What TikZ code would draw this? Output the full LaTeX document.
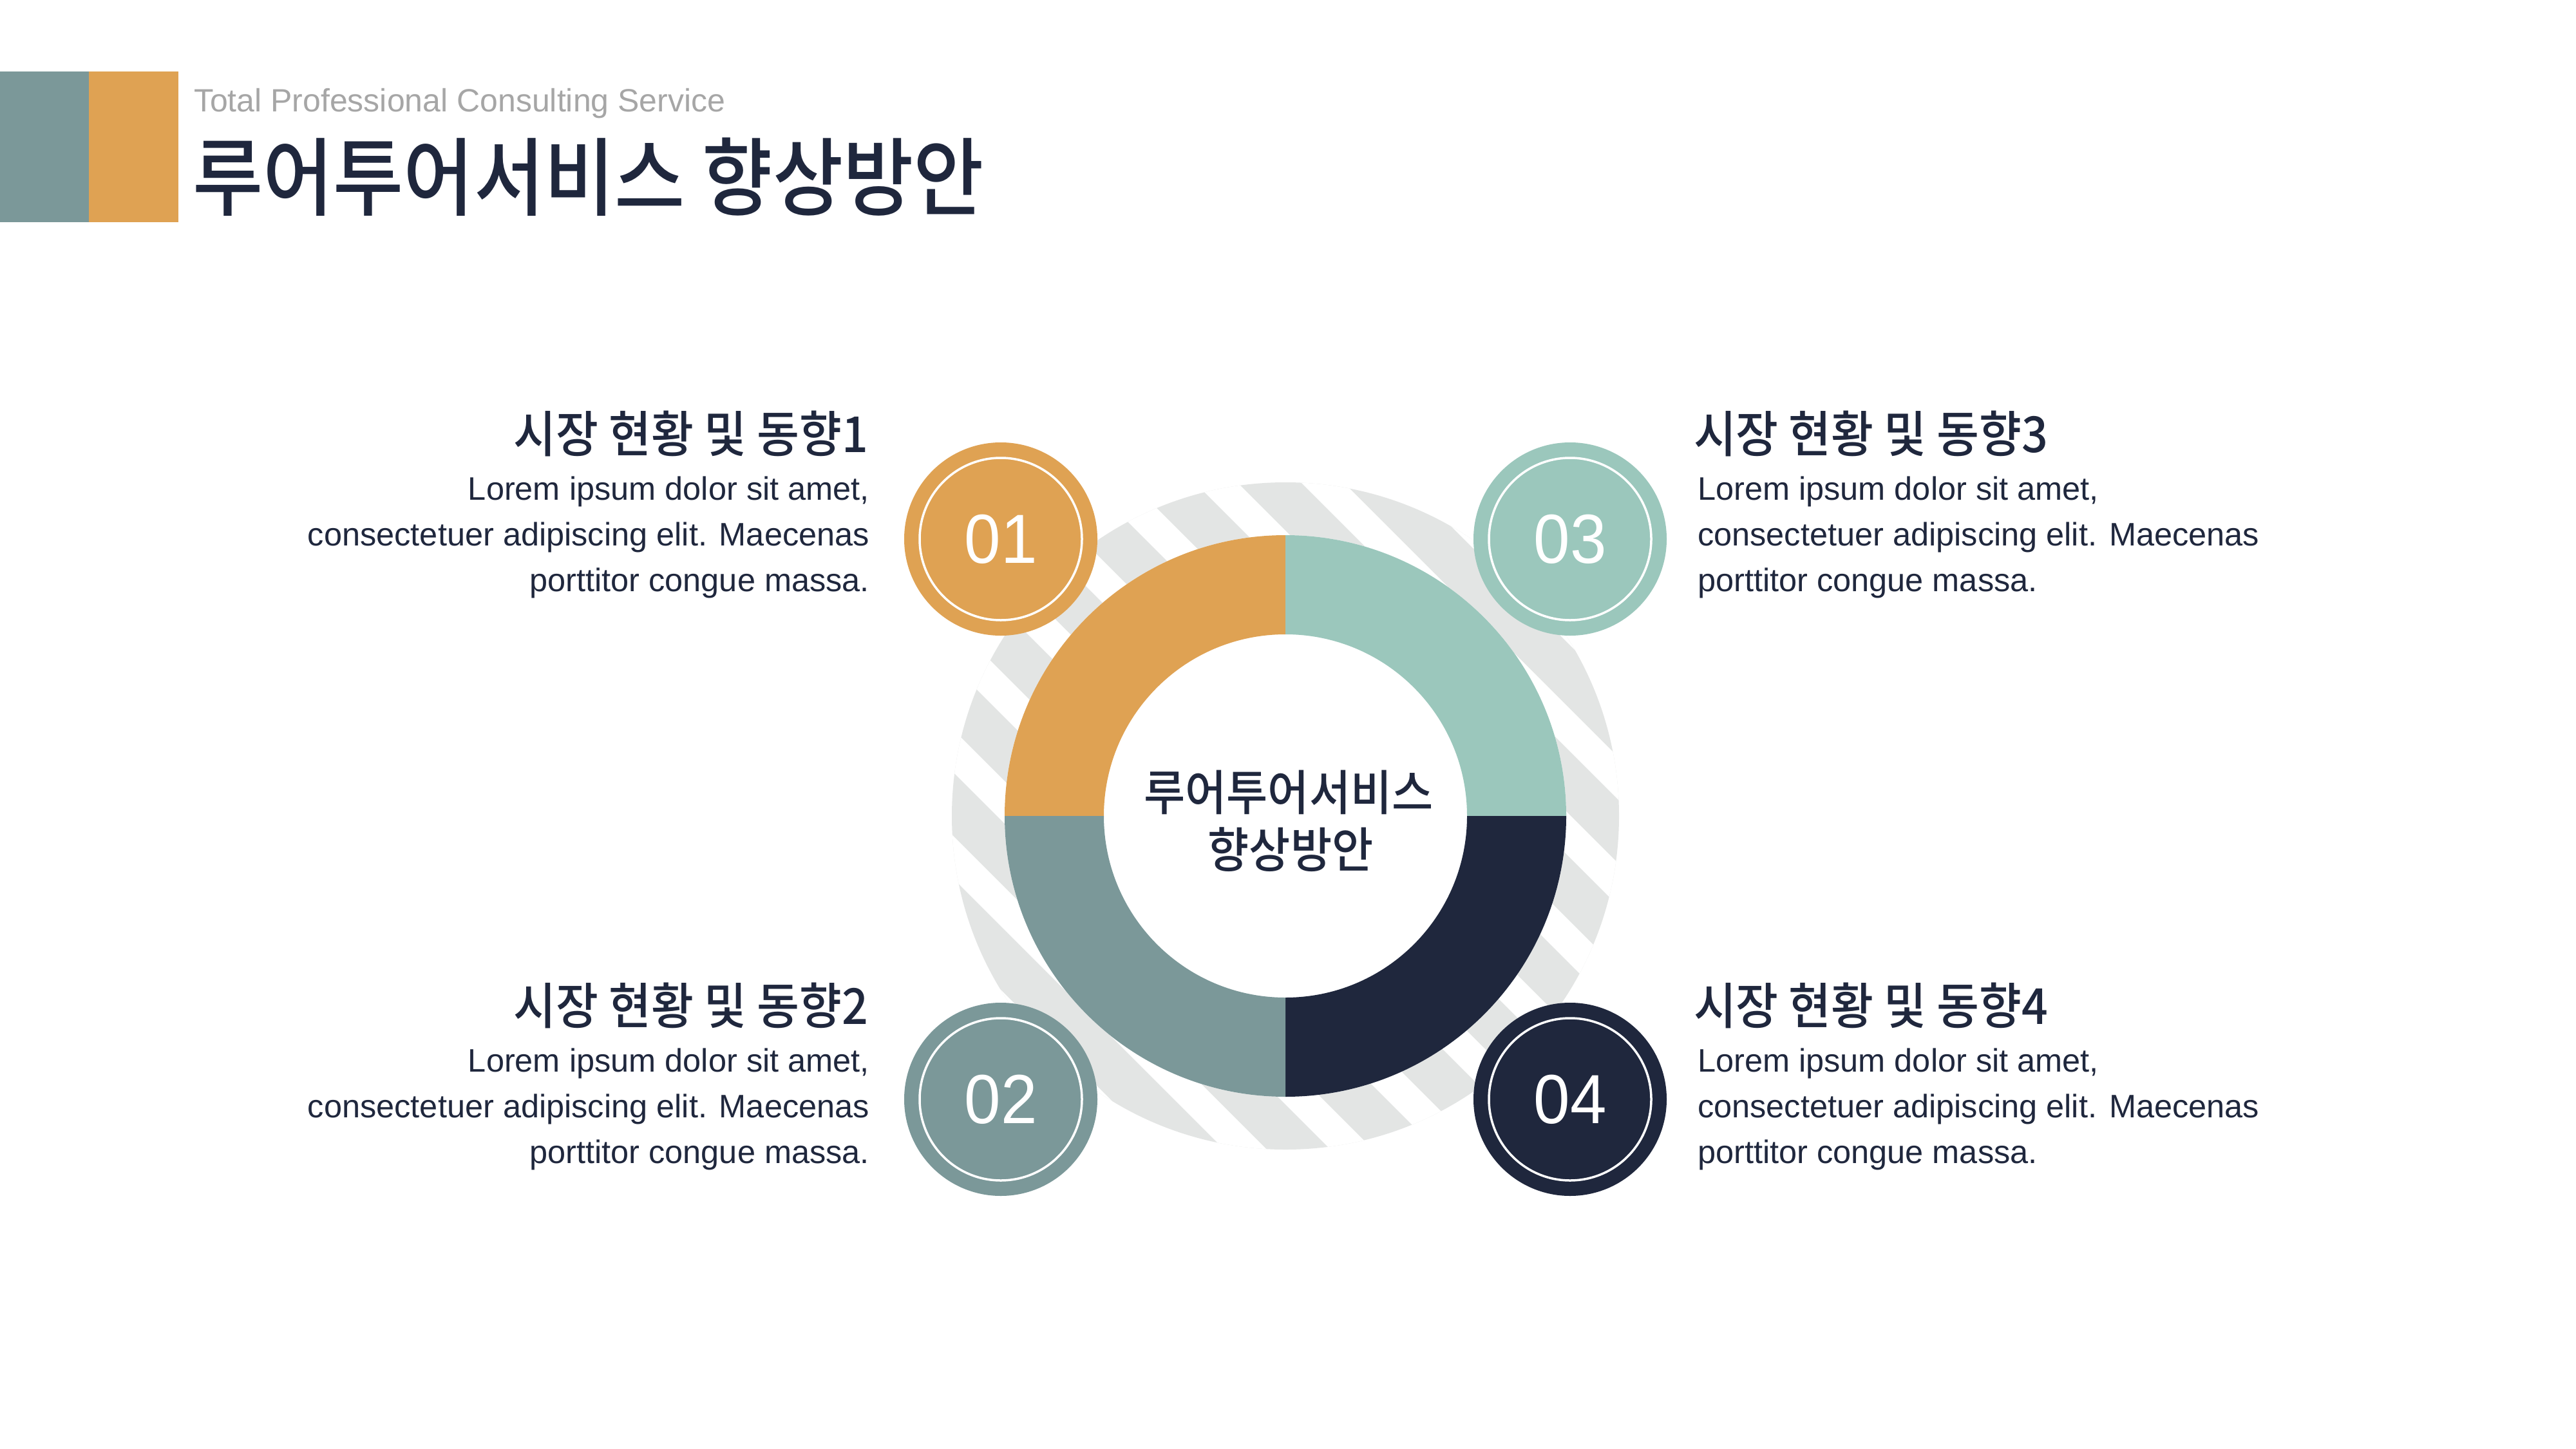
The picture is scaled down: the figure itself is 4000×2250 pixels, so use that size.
\documentclass[tikz,border=0pt]{standalone}
\usepackage{fontspec}
\setmainfont{Liberation Sans}
\newfontfamily\krmed{Noto Sans CJK KR Medium}[FakeStretch=0.93]
\newfontfamily\krtitle{Noto Sans CJK KR Medium}[FakeStretch=0.90]
\newfontfamily\numfont{Liberation Sans}[FakeStretch=0.94]
\definecolor{cOrange}{HTML}{DFA253}
\definecolor{cMint}{HTML}{9BC7BC}
\definecolor{cTeal}{HTML}{7B9899}
\definecolor{cNavy}{HTML}{1F273D}
\definecolor{cStripe}{HTML}{E3E5E4}
\definecolor{cSub}{HTML}{A6A6A6}
\tikzset{
  numdisc/.style={circle, minimum size=300pt, fill=#1, draw=none},
  numring/.style={circle, minimum size=252pt, draw=white, line width=3.5pt},
  numtxt/.style={text=white, font=\numfont\fontsize{108}{108}\selectfont},
  headtxt/.style={text=cNavy, font=\krmed\fontsize{77}{80}\selectfont},
  bodytxt/.style={text=cNavy, font=\fontsize{50.5}{60}\selectfont},
  centertxt/.style={text=cNavy, font=\krmed\fontsize{75}{80}\selectfont, anchor=base},
}
\begin{document}
\begin{tikzpicture}[x=1pt,y=-1pt, every node/.style={inner sep=0pt, outer sep=0pt}]
\useasboundingbox (0,0) rectangle (4000,2250);
\fill[white] (0,0) rectangle (4000,2250);
% header
\fill[cTeal] (0,111) rectangle (138,345);
\fill[cOrange] (138,111) rectangle (277,345);
\node[anchor=base west, text=cSub, font=\fontsize{50}{60}\selectfont] (sub) at (301,174) {Total Professional Consulting Service};
\node[anchor=base west, text=cNavy, font=\krtitle\fontsize{132}{140}\selectfont] (title) at (299,325) {루어투어서비스 향상방안};
% striped background circle
\coordinate (C) at (1996,1267);
\fill[cStripe] (C) circle[radius=518];
\begin{scope}
  \clip (C) circle[radius=518];
  \foreach \a in {-778,-613,...,707} {
    \pgfmathsetmacro\b{\a+66}
    \fill[white, shift={(C)}] (\a/2-700,-\a/2-700) -- (\a/2+700,-\a/2+700) -- (\b/2+700,-\b/2+700) -- (\b/2-700,-\b/2-700) -- cycle;
  }
\end{scope}
% donut
\fill[white] (C) circle[radius=436];
\foreach \s/\e/\c in {180/270/cOrange, 270/360/cMint, 0/90/cNavy, 90/180/cTeal} {
  \fill[\c, shift={(C)}] (\s:436) arc[start angle=\s, end angle=\e, radius=436] -- (\e:282) arc[start angle=\e, end angle=\s, radius=282] -- cycle;
}
\node[centertxt] (ctr1) at (2001,1258) {루어투어서비스};
\node[centertxt] (ctr2) at (2004,1347) {향상방안};
% numbered discs
\node[numdisc=cOrange] (d1) at (1554,837) {};
\node[numring] (r1) at (d1) {};
\node[numtxt] (n1) at (d1) {01};
\node[numdisc=cMint] (d3) at (2438,837) {};
\node[numring] (r3) at (d3) {};
\node[numtxt] (n3) at (d3) {03};
\node[numdisc=cTeal] (d2) at (1554,1707) {};
\node[numring] (r2) at (d2) {};
\node[numtxt] (n2) at (d2) {02};
\node[numdisc=cNavy] (d4) at (2438,1707) {};
\node[numring] (r4) at (d4) {};
\node[numtxt] (n4) at (d4) {04};
% text block 1 (top left)
\node[headtxt, anchor=base east] (h1) at (1348,702) {시장 현황 및 동향1};
\node[bodytxt, anchor=base east] (b1a) at (1350,776) {Lorem ipsum dolor sit amet,};
\node[bodytxt, anchor=base east] (b1b) at (1350,847) {consectetuer adipiscing elit. Maecenas};
\node[bodytxt, anchor=base east] (b1c) at (1350,918) {porttitor congue massa.};
% text block 2 (bottom left)
\node[headtxt, anchor=base east] (h2) at (1348,1590) {시장 현황 및 동향2};
\node[bodytxt, anchor=base east] (b2a) at (1350,1664) {Lorem ipsum dolor sit amet,};
\node[bodytxt, anchor=base east] (b2b) at (1350,1735) {consectetuer adipiscing elit. Maecenas};
\node[bodytxt, anchor=base east] (b2c) at (1350,1806) {porttitor congue massa.};
% text block 3 (top right)
\node[headtxt, anchor=base west] (h3) at (2630,702) {시장 현황 및 동향3};
\node[bodytxt, anchor=base west] (b3a) at (2636,776) {Lorem ipsum dolor sit amet,};
\node[bodytxt, anchor=base west] (b3b) at (2636,847) {consectetuer adipiscing elit. Maecenas};
\node[bodytxt, anchor=base west] (b3c) at (2636,918) {porttitor congue massa.};
% text block 4 (bottom right)
\node[headtxt, anchor=base west] (h4) at (2630,1590) {시장 현황 및 동향4};
\node[bodytxt, anchor=base west] (b4a) at (2636,1664) {Lorem ipsum dolor sit amet,};
\node[bodytxt, anchor=base west] (b4b) at (2636,1735) {consectetuer adipiscing elit. Maecenas};
\node[bodytxt, anchor=base west] (b4c) at (2636,1806) {porttitor congue massa.};
\end{tikzpicture}
\end{document}
